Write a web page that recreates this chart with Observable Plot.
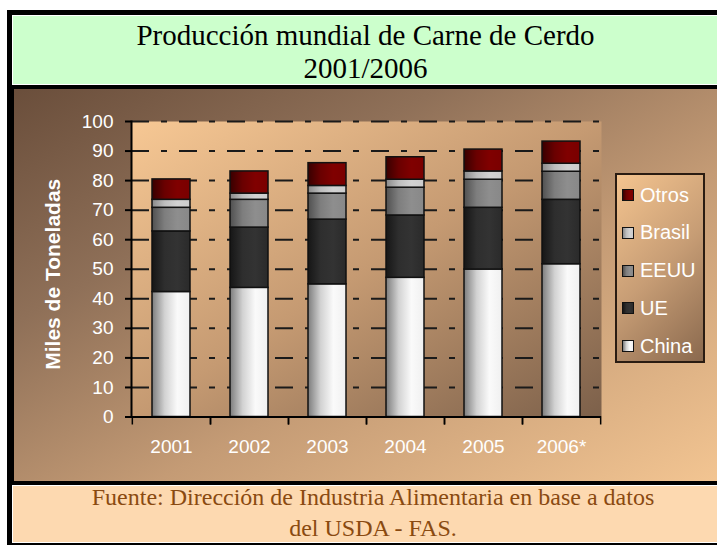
<!DOCTYPE html>
<html><head><meta charset="utf-8">
<script src="https://cdn.jsdelivr.net/npm/d3@7"></script>
<script src="https://cdn.jsdelivr.net/npm/@observablehq/plot@0.6"></script>
<style>
body{margin:0;background:#fff;width:717px;height:545px;overflow:hidden;position:relative;font-family:"Liberation Sans",Arial,sans-serif}
#outer{position:absolute;left:7px;top:10px;width:720px;height:540px;background:#000}
#title{position:absolute;left:12px;top:15px;width:712px;height:70px;background:#ccffcc;border:1px solid #fff;font-family:"Liberation Serif","Times New Roman",serif;color:#000;font-size:29px;text-align:center;box-sizing:border-box}
#title div{position:absolute;left:0;width:705px;text-align:center;line-height:1}
#panel{position:absolute;left:14px;top:89px;width:710px;height:392px;background:linear-gradient(to bottom right,#6a4e3b 0%,#8f7058 30%,#c49b75 60%,#f3c592 100%)}
#chart{position:absolute;left:14px;top:89px}
#legend{position:absolute;left:615px;top:173px;width:90px;height:190px;box-sizing:border-box;border:2px solid #2a1c12;background:linear-gradient(135deg,#f4c48f 0%,#c79d75 50%,#8a694e 100%)}
.item{position:absolute;left:5px;height:20px;display:flex;align-items:center;color:#fff;font-size:20px}
.sw{width:10px;height:10px;border:1.5px solid #111;margin-right:6px;flex:none}
#footer{position:absolute;left:12px;top:485px;width:712px;height:58px;background:#fdd9b0;border:1px solid #fff;box-sizing:border-box;font-family:"Liberation Serif","Times New Roman",serif;color:#8a4a10;font-size:24px}
#footer div{position:absolute;left:0;width:720px;text-align:center;line-height:1}
</style></head>
<body>
<div id="outer"></div>
<div id="title"><div style="top:5px">Producción mundial de Carne de Cerdo</div><div style="top:38px">2001/2006</div></div>
<div id="panel"></div>
<div id="chart"></div>
<div id="legend"></div>
<div id="footer"><div style="top:-1px">Fuente: Dirección de Industria Alimentaria en base a datos</div><div style="top:30px">del USDA - FAS.</div></div>
<script>
const years = ["2001", "2002", "2003", "2004", "2005", "2006*"];
const series = ["China", "UE", "EEUU", "Brasil", "Otros"];
const china  = [42.3, 43.7, 44.9, 47.1, 49.9, 51.7];
const ue     = [20.5, 20.4, 21.9, 21.1, 20.9, 21.8];
const eeuu   = [8.0, 9.4, 8.8, 9.4, 9.5, 9.5];
const brasil = [2.7, 2.1, 2.6, 2.7, 2.8, 2.7];
const otros  = [6.9, 7.5, 7.7, 7.6, 7.4, 7.5];
const yTicks = [0, 10, 20, 30, 40, 50, 60, 70, 80, 90, 100];
const yLabel = "Miles de Toneladas";

const seriesValues = {China: china, UE: ue, EEUU: eeuu, Brasil: brasil, Otros: otros};
const gradients = {
  China:  ["#7c7c7c", "#d2d2d2", "#fafafa", "#f0f0f0"],
  UE:     ["#161616", "#2e2e2e", "#333333", "#2a2a2a"],
  EEUU:   ["#505050", "#7e7e7e", "#8e8e8e", "#888888"],
  Brasil: ["#8a8a8a", "#bdbdbd", "#d2d2d2", "#cccccc"],
  Otros:  ["#380000", "#6a0000", "#800000", "#7a0000"]
};
const rows = series.flatMap(s => years.map((y, i) => ({year: y, series: s, value: seriesValues[s][i]})));

const W = 703, H = 392, ML = 117, MR = 116, MT = 32, MB = 64.5;
const step = (W - ML - MR) / years.length;

const chart = Plot.plot({
  width: W, height: H,
  marginLeft: ML, marginRight: MR, marginTop: MT, marginBottom: MB,
  style: {background: "transparent", fontFamily: "'Liberation Sans', Arial, sans-serif", overflow: "visible"},
  x: {domain: years, paddingInner: 0.51, paddingOuter: 0.255},
  y: {domain: [0, 100]},
  color: {domain: series, range: series.map(s => `url(#g-${s})`)},
  marks: [
    Plot.frame({fill: "url(#plotbg)", stroke: "none"}),
    Plot.ruleY(yTicks.filter(d => d > 0), {stroke: "#1a1a1a", strokeWidth: 2, strokeDasharray: "18,12,6,12"}),
    Plot.barY(rows, {x: "year", y: "value", fill: "series", stroke: "#111", strokeWidth: 1.5}),
    Plot.ruleY([0], {stroke: "#000", strokeWidth: 2}),
    Plot.frame({anchor: "left", stroke: "#000", strokeWidth: 2}),
    Plot.axisY({ticks: yTicks, tickSize: 6, tickPadding: 12, stroke: "#000", strokeWidth: 2, fill: "#fff", fontSize: 19, label: null}),
    Plot.axisX({tickSize: 0, tickPadding: 22, fill: "#fff", fontSize: 19, label: null}),
    Plot.axisX({tickSize: 8, text: null, dx: -step / 2, stroke: "#000", strokeWidth: 1.5, label: null}),
    Plot.axisX({tickSize: 8, text: null, dx: step / 2, stroke: "#000", strokeWidth: 1.5, label: null}),
    Plot.text([yLabel], {frameAnchor: "left", rotate: -90, textAnchor: "middle", dx: -78, dy: 5, fill: "#fff", fontWeight: "bold", fontSize: 21})
  ]
});

const defs = d3.select(chart).insert("defs", ":first-child");
for (const s of series) {
  const g = defs.append("linearGradient").attr("id", `g-${s}`).attr("x1", 0).attr("y1", 0).attr("x2", 1).attr("y2", 0);
  gradients[s].forEach((c, i, a) => g.append("stop").attr("offset", i / (a.length - 1)).attr("stop-color", c));
}
const bg = defs.append("linearGradient").attr("id", "plotbg").attr("x1", 0).attr("y1", 0).attr("x2", 1).attr("y2", 1);
[["0", "#f7c894"], ["0.5", "#c59a72"], ["1", "#7c604a"]].forEach(([o, c]) => bg.append("stop").attr("offset", o).attr("stop-color", c));

document.getElementById("chart").appendChild(chart);

const legend = d3.select("#legend");
series.slice().reverse().forEach((s, i) => {
  const it = legend.append("div").attr("class", "item").style("top", `${10 + i * 37.75}px`);
  it.append("div").attr("class", "sw").style("background", `linear-gradient(to right, ${gradients[s].join(",")})`);
  it.append("span").text(s);
});
</script>
</body></html>
